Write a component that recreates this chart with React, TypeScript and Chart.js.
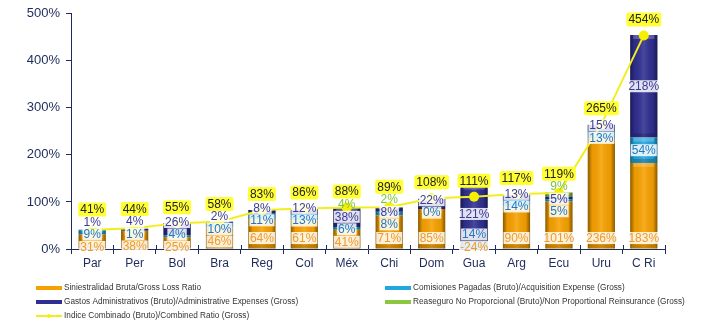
import React, { useEffect, useRef } from 'react';
import { Chart, registerables } from 'chart.js';

Chart.register(...registerables);

const categories = ['Par', 'Per', 'Bol', 'Bra', 'Reg', 'Col', 'Méx', 'Chi', 'Dom', 'Gua', 'Arg', 'Ecu', 'Uru', 'C Ri'];
const lossRatio = [31, 38, 25, 46, 64, 61, 41, 71, 85, -24, 90, 101, 236, 183];
const acquisitionExpense = [9, 1, 4, 10, 11, 13, 6, 8, 0, 14, 14, 5, 13, 54];
const adminExpenses = [1, 4, 26, 2, 8, 12, 38, 8, 22, 121, 13, 5, 15, 218];
const nonPropReinsurance = [0, 0, 0, 0, 0, 0, 4, 2, 0, 0, 0, 9, 0, 0];
const combinedRatio = [41, 44, 55, 58, 83, 86, 88, 89, 108, 111, 117, 119, 265, 454];
const yTickLabels = ['0%', '100%', '200%', '300%', '400%', '500%'];
const seriesNames = [
  'Siniestralidad Bruta/Gross Loss Ratio',
  'Comisiones Pagadas (Bruto)/Acquisition Expense (Gross)',
  'Gastos Administrativos (Bruto)/Administrative Expenses (Gross)',
  'Reaseguro No Proporcional (Bruto)/Non Proportional Reinsurance (Gross)',
  'Indice Combinado (Bruto)/Combined Ratio (Gross)',
];

const NAVY = '#1E2B5C';
const FONT = '"Liberation Sans", Arial, sans-serif';
const C_LOSS = '#F7A100';
const C_ACQ = '#22A6DE';
const C_ADMIN = '#2F2F91';
const C_GREEN = '#8DC63F';
const C_LINE = '#F2EE1E';
const T_LOSS = '#F09A28';
const T_ACQ = '#1F78BE';
const T_ADMIN = '#3A3A9C';
const T_GREEN = '#7CC242';

function spread(desired: number[], gap: number, maxY: number): number[] {
  const t = desired.map((d, k) => d + k * gap);
  const blocks: { sum: number; n: number }[] = [];
  for (const v of t) {
    blocks.push({ sum: v, n: 1 });
    while (blocks.length > 1) {
      const b = blocks[blocks.length - 1];
      const a = blocks[blocks.length - 2];
      if (a.sum / a.n < b.sum / b.n) {
        a.sum += b.sum;
        a.n += b.n;
        blocks.pop();
      } else break;
    }
  }
  const z: number[] = [];
  for (const b of blocks) for (let i = 0; i < b.n; i++) z.push(Math.min(b.sum / b.n, maxY));
  return z.map((v, k) => v - k * gap);
}

export default function App() {
  const ref = useRef<HTMLCanvasElement>(null);

  useEffect(() => {
    const canvas = ref.current!;

    const bevel = {
      id: 'bevel',
      afterDatasetDraw(chart: any, args: any) {
        const meta = args.meta;
        if (meta.type !== 'bar') return;
        const ctx = chart.ctx;
        const area = chart.chartArea;
        ctx.save();
        ctx.beginPath();
        ctx.rect(area.left, area.top, area.right - area.left, area.bottom - area.top);
        ctx.clip();
        meta.data.forEach((el: any) => {
          const p = el.getProps(['x', 'y', 'base', 'width'], true);
          const left = p.x - p.width / 2;
          const top = Math.min(p.y, p.base);
          const h = Math.abs(p.base - p.y);
          if (h < 0.5) return;
          const g = ctx.createLinearGradient(left, 0, left + p.width, 0);
          g.addColorStop(0, 'rgba(0,0,0,0.45)');
          g.addColorStop(0.16, 'rgba(0,0,0,0.05)');
          g.addColorStop(0.5, 'rgba(255,255,255,0.12)');
          g.addColorStop(0.84, 'rgba(0,0,0,0.05)');
          g.addColorStop(1, 'rgba(0,0,0,0.45)');
          ctx.fillStyle = g;
          ctx.fillRect(left, top, p.width, h);
          const band = Math.min(4, h / 3);
          ctx.fillStyle = 'rgba(255,255,255,0.22)';
          ctx.fillRect(left + 3, top, p.width - 6, band);
          ctx.fillStyle = 'rgba(0,0,0,0.18)';
          ctx.fillRect(left + 3, top + h - band, p.width - 6, band);
        });
        ctx.restore();
      },
    };

    const labelPlugin = {
      id: 'segLabels',
      afterDatasetsDraw(chart: any) {
        const ctx = chart.ctx;
        const yS = chart.scales.y;
        const xS = chart.scales.x;
        const zero = yS.getPixelForValue(0);
        ctx.save();
        ctx.font = `12px ${FONT}`;
        ctx.textAlign = 'center';
        ctx.textBaseline = 'middle';
        categories.forEach((_, i) => {
          const cx = xS.getPixelForValue(i);
          const items: { text: string; d: number; color: string; kind: string }[] = [];
          items.push({ text: lossRatio[i] + '%', d: zero - 11, color: T_LOSS, kind: 'bar' });
          let start = lossRatio[i] > 0 ? lossRatio[i] : 0;
          items.push({ text: acquisitionExpense[i] + '%', d: yS.getPixelForValue(start + acquisitionExpense[i] / 2), color: T_ACQ, kind: 'bar' });
          start += acquisitionExpense[i];
          items.push({ text: adminExpenses[i] + '%', d: yS.getPixelForValue(start + adminExpenses[i] / 2), color: T_ADMIN, kind: 'bar' });
          start += adminExpenses[i];
          if (nonPropReinsurance[i]) {
            items.push({ text: nonPropReinsurance[i] + '%', d: yS.getPixelForValue(start + nonPropReinsurance[i] / 2), color: T_GREEN, kind: 'green' });
          }
          items.push({ text: combinedRatio[i] + '%', d: yS.getPixelForValue(combinedRatio[i]) - 16, color: '#222', kind: 'line' });
          const ys = spread(items.map((it) => it.d), 12.5, zero - 2);
          items.forEach((it, k) => {
            const y = ys[k];
            const w = ctx.measureText(it.text).width;
            if (it.kind === 'bar') {
              ctx.fillStyle = 'rgba(255,255,255,0.85)';
              ctx.fillRect(cx - w / 2 - 1, y - 6, w + 2, 12);
            } else if (it.kind === 'line') {
              ctx.fillStyle = '#FFFF33';
              ctx.beginPath();
              (ctx as any).roundRect(cx - w / 2 - 2, y - 7, w + 4, 14, 2);
              ctx.fill();
            }
            ctx.fillStyle = it.color;
            ctx.fillText(it.text, cx, y + 0.5);
          });
        });
        ctx.restore();
      },
    };

    const extras = {
      id: 'extras',
      afterDraw(chart: any) {
        const ctx = chart.ctx;
        const area = chart.chartArea;
        ctx.save();
        ctx.strokeStyle = NAVY;
        ctx.lineWidth = 1;
        const step = (area.right - area.left) / categories.length;
        for (let i = 1; i <= categories.length; i++) {
          const x = Math.round(area.left + i * step) + 0.5;
          ctx.beginPath();
          ctx.moveTo(x, area.bottom - 4);
          ctx.lineTo(x, area.bottom);
          ctx.stroke();
        }
        const entries = [
          { col: 0, row: 0, color: C_LOSS, kind: 'bar' },
          { col: 1, row: 0, color: C_ACQ, kind: 'bar' },
          { col: 0, row: 1, color: C_ADMIN, kind: 'bar' },
          { col: 1, row: 1, color: C_GREEN, kind: 'bar' },
          { col: 0, row: 2, color: C_LINE, kind: 'line' },
        ];
        const colX = [36, 385];
        const rowY = [288, 302, 316];
        ctx.font = `8.5px ${FONT}`;
        ctx.textBaseline = 'middle';
        ctx.textAlign = 'left';
        entries.forEach((e, k) => {
          const x = colX[e.col];
          const y = rowY[e.row];
          if (e.kind === 'bar') {
            ctx.fillStyle = e.color;
            ctx.fillRect(x, y - 2, 26, 4);
          } else {
            ctx.strokeStyle = e.color;
            ctx.lineWidth = 2;
            ctx.beginPath();
            ctx.moveTo(x, y);
            ctx.lineTo(x + 26, y);
            ctx.stroke();
            ctx.fillStyle = e.color;
            ctx.beginPath();
            ctx.arc(x + 13, y, 2, 0, Math.PI * 2);
            ctx.fill();
          }
          ctx.save();
          ctx.translate(x + 28, y);
          ctx.scale(0.97, 1);
          ctx.fillStyle = '#333';
          ctx.fillText(seriesNames[k], 0, 0);
          ctx.restore();
        });
        ctx.restore();
      },
    };

    const chart = new Chart(canvas, {
      type: 'bar',
      data: {
        labels: categories,
        datasets: [
          {
            type: 'line',
            label: seriesNames[4],
            data: combinedRatio,
            borderColor: C_LINE,
            backgroundColor: C_LINE,
            borderWidth: 2,
            pointRadius: 5,
            pointBackgroundColor: '#F5F000',
            pointBorderWidth: 0,
            order: 0,
            stack: 'combined',
          } as any,
          { label: seriesNames[0], data: lossRatio, backgroundColor: C_LOSS, order: 1, stack: 's' },
          { label: seriesNames[1], data: acquisitionExpense, backgroundColor: C_ACQ, order: 1, stack: 's' },
          { label: seriesNames[2], data: adminExpenses, backgroundColor: C_ADMIN, order: 1, stack: 's' },
          { label: seriesNames[3], data: nonPropReinsurance, backgroundColor: C_GREEN, order: 1, stack: 's' },
        ],
      },
      options: {
        responsive: false,
        animation: false,
        devicePixelRatio: 1,
        layout: { padding: { top: 7, right: 51, left: 0, bottom: 0 } },
        datasets: { bar: { barPercentage: 0.64, categoryPercentage: 1 } },
        plugins: { legend: { display: false }, tooltip: { enabled: false } },
        scales: {
          x: {
            stacked: true,
            offset: true,
            grid: { display: true, drawOnChartArea: false, offset: true, tickLength: 5, color: NAVY },
            border: { color: NAVY, width: 1 },
            ticks: { color: NAVY, font: { size: 12, family: FONT }, padding: 2, maxRotation: 0 },
            afterFit: (s: any) => { s.height = 79; },
          },
          y: {
            stacked: true,
            min: 0,
            max: 500,
            grid: { display: true, drawOnChartArea: false, tickLength: 5, color: NAVY },
            border: { color: NAVY, width: 1 },
            ticks: {
              stepSize: 100,
              color: NAVY,
              font: { size: 13, family: FONT },
              padding: 6,
              callback: (_v: any, i: number) => yTickLabels[i],
            },
            afterFit: (s: any) => { s.width = 71; },
          },
        },
      },
      plugins: [bevel, labelPlugin, extras],
    });
    return () => chart.destroy();
  }, []);

  return (
    <div style={{ position: 'absolute', left: 0, top: 0, width: 716, height: 328, background: '#fff' }}>
      <canvas ref={ref} width={716} height={328} style={{ display: 'block' }} />
    </div>
  );
}
